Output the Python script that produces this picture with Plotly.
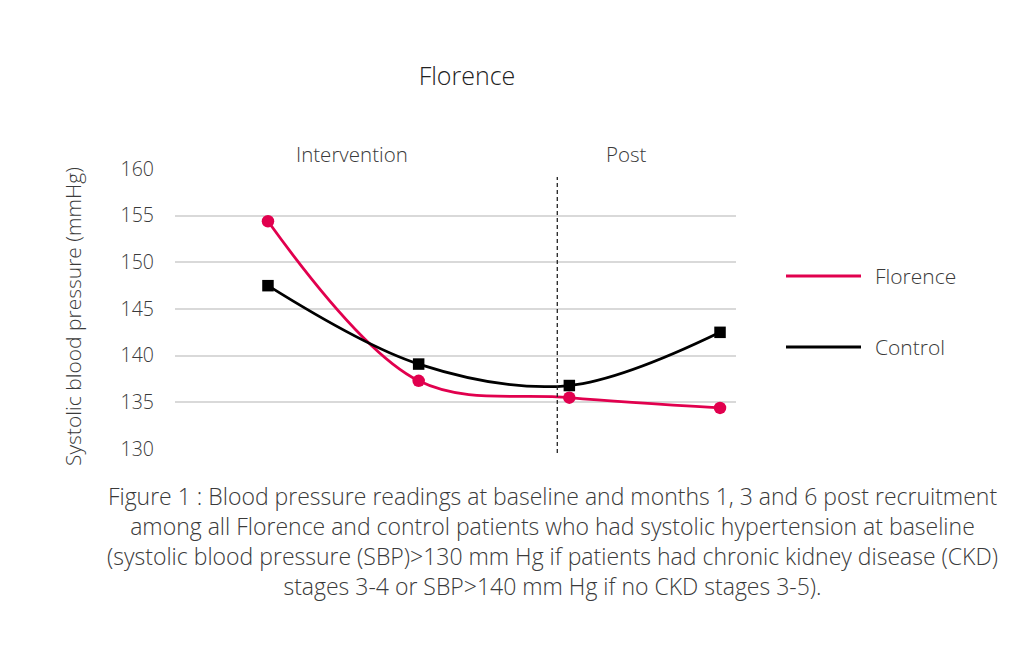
import plotly.graph_objects as go

# Data
time_points = [0, 1, 2, 3]  # baseline, month 1, month 3, month 6
series_names = ["Florence", "Control"]
florence_values = [154.4, 137.3, 135.5, 134.4]
control_values = [147.5, 139.1, 136.8, 142.5]
y_ticks = [130, 135, 140, 145, 150, 155, 160]
phase_labels = ["Intervention", "Post"]
y_title = "Systolic blood pressure (mmHg)"
chart_title = "Florence"

RED = "#E1004E"
BLACK = "#000000"
FONT = "Open Sans"
TXT = "#3a3a3a"

OFF = 8  # browser body margin
W, H = 1024, 645
# target plot area in screen pixels
PX0, PX1, PY0, PY1 = 175, 736, 169, 449
L = PX0 - OFF
T = PY0 - OFF
R = W - (PX1 - OFF)
B = H - (PY1 - OFF)
pw = PX1 - PX0
ph = PY1 - PY0

def px_to_paper_x(px):
    return (px - PX0) / pw

def px_to_paper_y(py):
    return (PY1 - py) / ph

fig = go.Figure()
fig.add_trace(go.Scatter(
    x=time_points, y=florence_values, mode="lines+markers", name=series_names[0],
    line=dict(color=RED, width=2.8, shape="spline", smoothing=1.0),
    marker=dict(symbol="circle", size=12.5, color=RED), showlegend=False))
fig.add_trace(go.Scatter(
    x=time_points, y=control_values, mode="lines+markers", name=series_names[1],
    line=dict(color=BLACK, width=2.8, shape="spline", smoothing=1.0),
    marker=dict(symbol="square", size=11.5, color=BLACK), showlegend=False))

# dashed divider
fig.add_shape(type="line", xref="x", yref="paper", x0=1.92, x1=1.92,
              y0=px_to_paper_y(453), y1=px_to_paper_y(177),
              line=dict(color="#222222", width=1.3, dash="4px,3px"))

# phase labels
fig.add_annotation(x=0.56, xref="x", y=px_to_paper_y(154), yref="paper",
                   text=phase_labels[0], showarrow=False, yanchor="middle",
                   font=dict(family=FONT, size=20.5, color=TXT, weight=300))
fig.add_annotation(x=2.38, xref="x", y=px_to_paper_y(154), yref="paper",
                   text=phase_labels[1], showarrow=False, yanchor="middle",
                   font=dict(family=FONT, size=20.5, color=TXT, weight=300))

# y-axis title
fig.add_annotation(x=px_to_paper_x(73), xref="paper", y=px_to_paper_y(317), yref="paper",
                   text=y_title, showarrow=False, textangle=-90,
                   xanchor="center", yanchor="middle",
                   font=dict(family=FONT, size=21, color=TXT, weight=300))

# manual legend
for i, (nm, col) in enumerate(zip(series_names, [RED, BLACK])):
    yy = [276, 347][i]
    fig.add_shape(type="line", xref="paper", yref="paper",
                  x0=px_to_paper_x(786), x1=px_to_paper_x(861),
                  y0=px_to_paper_y(yy), y1=px_to_paper_y(yy),
                  line=dict(color=col, width=3))
    fig.add_annotation(x=px_to_paper_x(873), xref="paper", y=px_to_paper_y(yy), yref="paper",
                       text=nm, showarrow=False, xanchor="left", yanchor="middle",
                       font=dict(family=FONT, size=21, color=TXT, weight=300))

caption = ("Figure 1 : Blood pressure readings at baseline and months 1, 3 and 6 post recruitment<br>"
           "among all Florence and control patients who had systolic hypertension at baseline<br>"
           "(systolic blood pressure (SBP)>130 mm Hg if patients had chronic kidney disease (CKD)<br>"
           "stages 3-4 or SBP>140 mm Hg if no CKD stages 3-5).")
fig.add_annotation(x=px_to_paper_x(552), xref="paper", y=px_to_paper_y(478), yref="paper",
                   text=caption, showarrow=False, xanchor="center", yanchor="top",
                   align="center",
                   font=dict(family=FONT, size=23, color=TXT, weight=300))

fig.update_layout(
    width=W, height=H,
    margin=dict(l=L, r=R, t=T, b=B),
    paper_bgcolor="white", plot_bgcolor="white",
    title=dict(text=chart_title, x=(467 - OFF) / W, xanchor="center",
               y=1 - (76 - OFF) / H, yanchor="middle",
               font=dict(family=FONT, size=25, color="#222222", weight=300)),
    xaxis=dict(range=[-0.617, 3.106], showgrid=False, showticklabels=False,
               zeroline=False, showline=False, ticks=""),
    yaxis=dict(range=[130, 160], tickvals=y_ticks, showgrid=True, gridcolor="#D9D9D9",
               gridwidth=1.8, zeroline=False, showline=False, ticks="", ticklabelstandoff=20,
               tickfont=dict(family=FONT, size=19.5, color=TXT, weight=300)),
    showlegend=False,
)

fig.write_html("out.html")
